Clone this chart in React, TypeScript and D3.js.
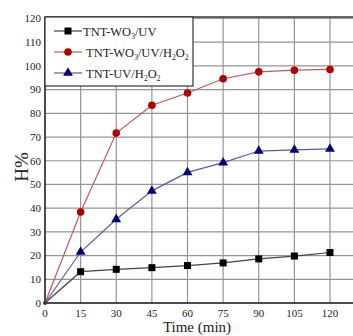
import React, { useEffect, useRef } from "react";
import * as d3 from "d3";

const times = [0, 15, 30, 45, 60, 75, 90, 105, 120];
const wo3uv = [0, 13.2, 14.2, 14.9, 15.8, 16.9, 18.6, 19.8, 21.3];
const wo3uvh2o2 = [0, 38.4, 71.7, 83.4, 88.6, 94.6, 97.5, 98.2, 98.5];
const uvh2o2 = [0, 21.5, 35.3, 47.3, 55.1, 59.2, 64.1, 64.6, 65.0];
const xTicks = [0, 15, 30, 45, 60, 75, 90, 105, 120];
const yTicks = [0, 10, 20, 30, 40, 50, 60, 70, 80, 90, 100, 110, 120];

const series = [
  { key: "wo3uv", values: wo3uv, line: "#444444", fill: "#000000", shape: "square" },
  { key: "wo3uvh2o2", values: wo3uvh2o2, line: "#c45a5a", fill: "#b00000", shape: "circle" },
  { key: "uvh2o2", values: uvh2o2, line: "#5a5aa8", fill: "#00007a", shape: "triangle" },
];

function App() {
  const svgRef = useRef<SVGSVGElement>(null);
  const width = 353;
  const height = 336;

  useEffect(() => {
    const svg = d3.select(svgRef.current);
    svg.selectAll("*").remove();

    const left = 45;
    const right = 353;
    const top = 17;
    const bottom = 303;

    const x = d3.scaleLinear().domain([0, 120]).range([left, 330]);
    const y = d3.scaleLinear().domain([0, 120]).range([bottom, 18.5]);

    const font = "Liberation Serif, serif";

    // grid
    const grid = svg.append("g");
    grid
      .selectAll("line.h")
      .data(yTicks.filter((d) => d > 0))
      .join("line")
      .attr("x1", left)
      .attr("x2", right)
      .attr("y1", (d) => y(d))
      .attr("y2", (d) => y(d))
      .attr("stroke", "#959595")
      .attr("stroke-width", 1.2);
    grid
      .selectAll("line.v")
      .data(xTicks.filter((d) => d > 0))
      .join("line")
      .attr("x1", (d) => x(d))
      .attr("x2", (d) => x(d))
      .attr("y1", top)
      .attr("y2", bottom)
      .attr("stroke", "#959595")
      .attr("stroke-width", 1.2);

    // frame
    svg.append("line").attr("x1", left).attr("x2", right).attr("y1", top).attr("y2", top)
      .attr("stroke", "#333").attr("stroke-width", 1.5);
    svg.append("line").attr("x1", left).attr("x2", left).attr("y1", top).attr("y2", bottom)
      .attr("stroke", "#111").attr("stroke-width", 1.5);
    svg.append("line").attr("x1", left).attr("x2", right).attr("y1", bottom).attr("y2", bottom)
      .attr("stroke", "#111").attr("stroke-width", 1.5);

    // tick labels
    svg
      .append("g")
      .selectAll("text")
      .data(yTicks)
      .join("text")
      .attr("x", left - 4)
      .attr("y", (d) => y(d))
      .attr("dy", "0.35em")
      .attr("text-anchor", "end")
      .style("font-family", font)
      .style("font-size", "11px")
      .attr("fill", "#222")
      .text((d) => d);
    svg
      .append("g")
      .selectAll("text")
      .data(xTicks)
      .join("text")
      .attr("x", (d) => x(d))
      .attr("y", bottom + 14)
      .attr("text-anchor", "middle")
      .style("font-family", font)
      .style("font-size", "11px")
      .attr("fill", "#222")
      .text((d) => d);

    // axis titles
    svg.append("text")
      .attr("x", 197).attr("y", 332)
      .attr("text-anchor", "middle")
      .style("font-family", font).style("font-size", "15px").attr("fill", "#222")
      .text("Time (min)");
    svg.append("text")
      .attr("transform", `translate(28,167)rotate(-90)`)
      .attr("text-anchor", "middle")
      .style("font-family", font).style("font-size", "19px").attr("fill", "#222")
      .text("H%");

    const drawMarker = (g: any, shape: string, cx: number, cy: number, fill: string) => {
      if (shape === "square") {
        g.append("rect").attr("x", cx - 3.5).attr("y", cy - 3.5).attr("width", 7).attr("height", 7).attr("fill", fill);
      } else if (shape === "circle") {
        g.append("circle").attr("cx", cx).attr("cy", cy).attr("r", 3.8).attr("fill", fill);
      } else {
        g.append("path")
          .attr("d", d3.symbol().type(d3.symbolTriangle).size(42)())
          .attr("transform", `translate(${cx},${cy})`)
          .attr("fill", fill);
      }
    };

    const line = d3
      .line<number>()
      .x((_, i) => x(times[i]))
      .y((d) => y(d));

    series.forEach((s) => {
      svg.append("path")
        .datum(s.values)
        .attr("fill", "none")
        .attr("stroke", s.line)
        .attr("stroke-width", 1.2)
        .attr("d", line);
      const g = svg.append("g");
      s.values.forEach((v, i) => {
        if (i === 0) return;
        drawMarker(g, s.shape, x(times[i]), y(v), s.fill);
      });
    });
    // origin dot
    svg.append("circle").attr("cx", x(0)).attr("cy", y(0)).attr("r", 2).attr("fill", "#333");

    // legend
    const lg = svg.append("g");
    lg.append("rect")
      .attr("x", left).attr("y", top).attr("width", 148).attr("height", 69)
      .attr("fill", "#fff").attr("stroke", "#333").attr("stroke-width", 1.2);
    const labels: [string, string, string, string, number][] = [
      ["TNT-WO", "3", "/UV", "", 31],
      ["TNT-WO", "3", "/UV/H", "2", 52],
      ["TNT-UV/H", "2", "O", "2", 73],
    ];
    series.forEach((s, i) => {
      const ly = labels[i][4];
      lg.append("line").attr("x1", 54).attr("x2", 82).attr("y1", ly).attr("y2", ly)
        .attr("stroke", s.line).attr("stroke-width", 1.2);
      drawMarker(lg, s.shape, 68, ly, s.fill);
      const t = lg.append("text")
        .attr("x", i === 0 ? 83 : 86)
        .attr("y", ly + 4.5)
        .style("font-family", font)
        .style("font-size", "12.5px")
        .attr("fill", "#222");
      const [a, b, c, d] = labels[i];
      t.append("tspan").text(a);
      t.append("tspan").style("font-size", "7.5px").attr("dy", 3).text(b);
      t.append("tspan").attr("dy", -3).text(c);
      if (i === 1) {
        t.append("tspan").style("font-size", "7.5px").attr("dy", 3).text(d);
        t.append("tspan").attr("dy", -3).text("O");
        t.append("tspan").style("font-size", "7.5px").attr("dy", 3).text("2");
      } else if (d) {
        t.append("tspan").style("font-size", "7.5px").attr("dy", 3).text(d);
      }
    });
  }, []);

  return (
    <svg ref={svgRef} width={width} height={height} style={{ position: "absolute", left: 0, top: 0 }}></svg>
  );
}

export default App;
